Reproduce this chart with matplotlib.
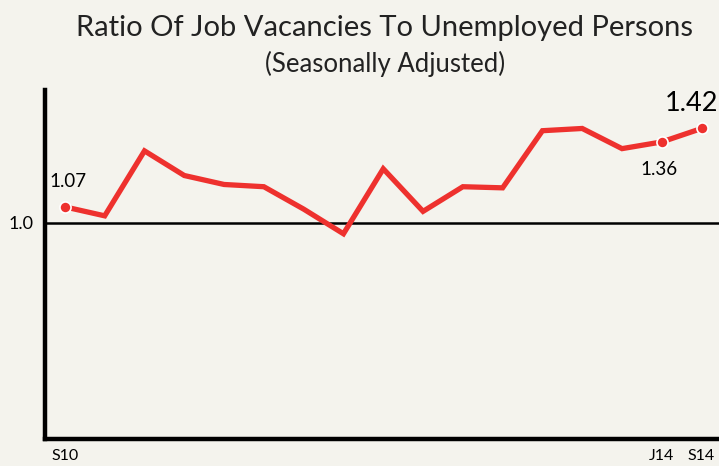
import matplotlib
matplotlib.use('Agg')
import matplotlib.pyplot as plt

# quarterly ratio, Sep 2010 .. Sep 2014
quarters = list(range(17))
ratio = [1.07, 1.03, 1.32, 1.21, 1.17, 1.16, 1.06, 0.95, 1.24,
         1.05, 1.16, 1.155, 1.41, 1.42, 1.33, 1.36, 1.42]
tick_pos = [0, 15, 16]
tick_labels = ["S10", "J14", "S14"]

BG = "#f4f3ed"
RED = "#ee312e"

plt.rcParams['font.family'] = ['Lato', 'DejaVu Sans']

fig = plt.figure(figsize=(7.19, 4.66), dpi=100, facecolor=BG)
ax = fig.add_axes([0.0626, 0.058, 0.937, 0.749])
ax.set_facecolor(BG)

ax.axhline(1.0, color="black", linewidth=1.8, zorder=1)
ax.plot(quarters, ratio, color=RED, linewidth=3.8, solid_joinstyle="miter", zorder=2)
ends = [0, 15, 16]
ax.plot([quarters[i] for i in ends], [ratio[i] for i in ends], "o", color=RED,
        markersize=8, markeredgecolor="white", markeredgewidth=1.2, zorder=3)

ax.annotate("1.07", (quarters[0], ratio[0]), xytext=(2, 12), textcoords="offset points",
            ha="center", va="bottom", fontsize=13.5)
ax.annotate("1.36", (quarters[15], ratio[15]), xytext=(-2, -14), textcoords="offset points",
            ha="center", va="top", fontsize=13.5)
ax.annotate("1.42", (quarters[16], ratio[16]), xytext=(-7, 9), textcoords="offset points",
            ha="center", va="bottom", fontsize=19.5)

ax.set_xlim(-0.5, 16.43)
ax.set_ylim(0.034, 1.592)
ax.set_xticks(tick_pos)
ax.set_xticklabels(tick_labels, fontsize=11.5)
ax.set_yticks([1.0])
ax.set_yticklabels(["1.0"], fontsize=13)
ax.tick_params(length=0, pad=7)
ax.tick_params(axis="y", pad=8)

for s in ["top", "right"]:
    ax.spines[s].set_visible(False)
for s in ["left", "bottom"]:
    ax.spines[s].set_linewidth(3.2)
    ax.spines[s].set_color("black")

fig.text(0.535, 0.94, "Ratio Of Job Vacancies To Unemployed Persons",
         ha="center", va="center", fontsize=21, color="#222222")
fig.text(0.535, 0.862, "(Seasonally Adjusted)",
         ha="center", va="center", fontsize=18.5, color="#222222")

fig.savefig("out.png", dpi=100, facecolor=BG)
